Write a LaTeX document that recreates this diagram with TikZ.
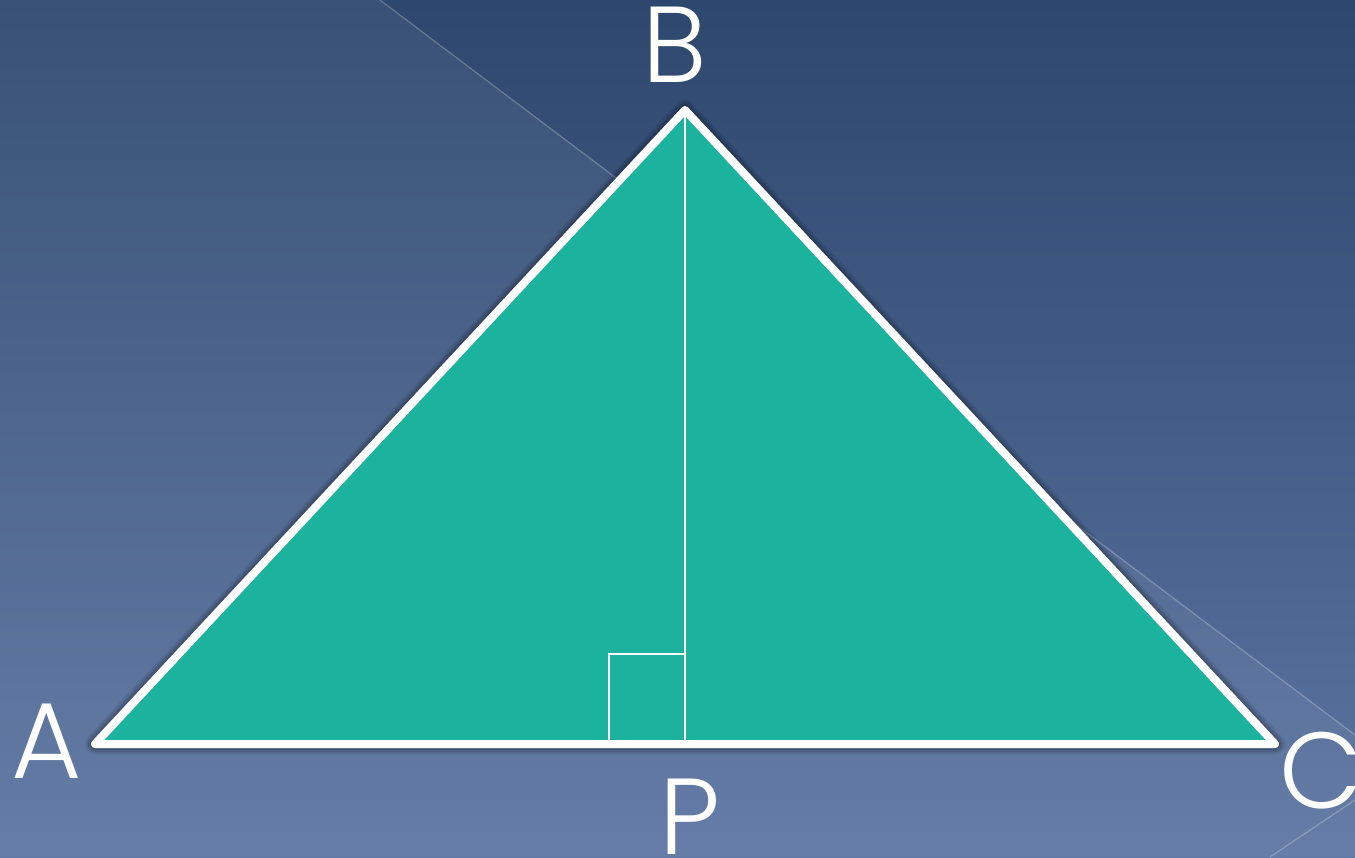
\documentclass[tikz,border=0pt]{standalone}
\usepackage{fontspec}
\setmainfont{Poppins Light}
\usetikzlibrary{calc}

\definecolor{slidetop}{RGB}{45,71,110}
\definecolor{slidebottom}{RGB}{92,117,162}
\definecolor{trifill}{RGB}{27,178,158}

\begin{document}
\begin{tikzpicture}[x=0.5pt,y=-0.5pt,
  vertex/.style={text=white,inner sep=0pt,font=\fontsize{54}{60}\selectfont}]
\useasboundingbox (0,0) rectangle (1355,857);

% Background of the slide
\shade[top color=slidetop,bottom color=slidebottom] (0,0) rectangle (1355,857);
\fill[white,opacity=0.06] (0,0) -- (380,0) -- (1355,735) -- (1355,857) -- (0,857) -- cycle;
\draw[white,opacity=0.25,line width=0.6pt] (380,0) -- (1355,735);
\draw[white,opacity=0.25,line width=0.6pt] (1270,857) -- (1355,800);

% Triangle vertices
\coordinate (A) at (95,744);
\coordinate (B) at (685,110);
\coordinate (C) at (1275,744);

% Foot of the altitude from B
\coordinate (P) at ($(A)!(B)!(C)$);

% Soft shadow
\foreach \w/\o in {10/0.08,8/0.1,6/0.12}
  \draw[black,opacity=\o,line width=\w pt,line join=round] (A) -- (B) -- (C) -- cycle;

% Draw triangle
\fill[trifill] (A) -- (B) -- (C) -- cycle;

% Altitude and right angle mark
\draw[white,line width=1pt] (B) -- (P);
\draw[white,line width=0.8pt] ($(P)+(-76,0)$) |- ($(P)+(0,-90)$);

\draw[white,line width=4pt,line join=round] (A) -- (B) -- (C) -- cycle;

% Labels
\node[vertex] (labA) at (47,741) {A};
\node[vertex] (labB) at (675,45) {B};
\node[vertex] (labC) at (1321,771) {C};
\node[vertex] (labP) at (690,817) {P};

\end{tikzpicture}
\end{document}
